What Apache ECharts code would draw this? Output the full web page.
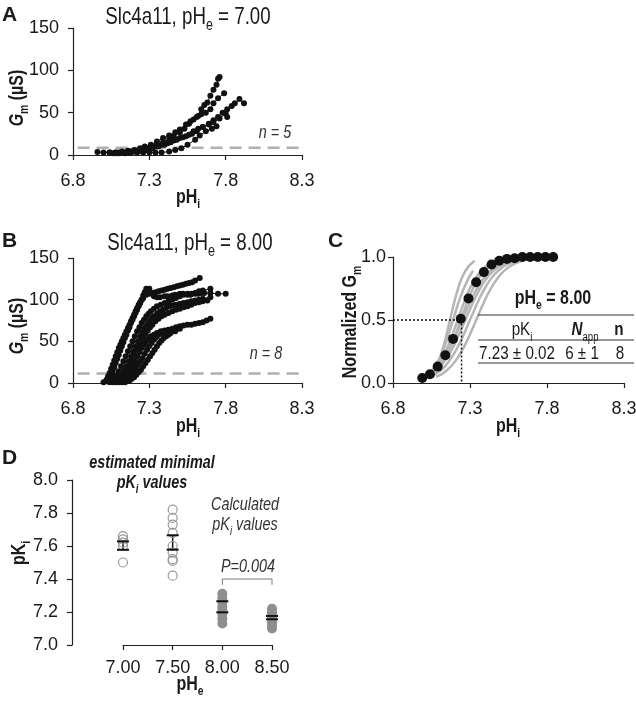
<!DOCTYPE html>
<html><head><meta charset="utf-8">
<script src="https://cdn.jsdelivr.net/npm/echarts@6/dist/echarts.min.js"></script>
<style>html,body{margin:0;padding:0;background:#fff}#c{width:636px;height:702px}</style>
</head><body><div id="c"></div>
<script>
// ---------- tick values ----------
const xTicksPHi = [6.8, 7.3, 7.8, 8.3];
const yTicksGm = [0, 50, 100, 150];
const yTicksNorm = [0, 0.5, 1.0];
const xTicksPHe = [7.0, 7.5, 8.0, 8.5];
const yTicksPK = [7.0, 7.2, 7.4, 7.6, 7.8, 8.0];

// ---------- panel A: Gm vs pHi, pHe 7.00 (n = 5) ----------
const thresholdA = 8.6;
const curveA1 = [[6.96,3.5],[7.00,3],[7.04,3],[7.08,3],[7.12,3],[7.16,4],[7.20,5],[7.24,6],[7.28,8],[7.32,10],[7.35,12],[7.39,15],[7.43,19],[7.46,22],[7.50,27],[7.53,31],[7.56,37],[7.59,42],[7.62,46],[7.64,54],[7.66,59],[7.68,62],[7.70,70],[7.72,77],[7.74,83],[7.75,90],[7.76,92]];
const curveA2 = [[7.04,3],[7.08,3],[7.12,4],[7.16,5],[7.20,6],[7.24,8],[7.27,10],[7.31,12],[7.35,16],[7.39,20],[7.43,23],[7.47,27],[7.50,30],[7.54,36],[7.57,40],[7.61,45],[7.64,48],[7.67,50],[7.70,54],[7.72,61],[7.75,67],[7.79,73]];
const curveA3 = [[7.06,2],[7.10,3],[7.14,3],[7.18,4],[7.22,5],[7.26,6],[7.30,8],[7.34,10],[7.38,12],[7.42,14],[7.46,17],[7.50,20],[7.54,22],[7.58,25],[7.61,28],[7.65,33],[7.69,37],[7.72,41],[7.75,45],[7.78,50],[7.81,54],[7.84,58],[7.86,61],[7.89,66],[7.92,61]];
const curveA4 = [[7.08,2],[7.12,3],[7.16,3],[7.20,4],[7.24,5],[7.28,6],[7.32,8],[7.36,10],[7.40,12],[7.44,15],[7.48,18],[7.52,21],[7.56,24],[7.59,28],[7.62,31],[7.65,33],[7.69,36],[7.72,39],[7.76,43],[7.80,49],[7.81,45]];
const curveA5 = [[7.10,2],[7.14,2],[7.18,3],[7.22,3],[7.26,3],[7.30,3],[7.34,3],[7.38,3],[7.43,4],[7.47,6],[7.51,8],[7.55,12],[7.60,18],[7.63,23],[7.67,28],[7.71,31],[7.74,34]];

// ---------- panel B: Gm vs pHi, pHe 8.00 (n = 8) ----------
const thresholdB = 11.5;
const curveB1 = [[7.00,1],[7.02,4],[7.03,8],[7.04,12],[7.05,17],[7.06,22],[7.07,27],[7.08,32],[7.09,37],[7.10,42],[7.11,46],[7.12,50],[7.13,54],[7.14,58],[7.15,62],[7.16,66],[7.17,70],[7.18,74],[7.19,78],[7.20,82],[7.21,86],[7.22,90],[7.23,94],[7.24,97],[7.25,100],[7.26,102],[7.28,106],[7.30,107],[7.32,108],[7.34,109],[7.36,110],[7.38,111],[7.40,112],[7.42,113],[7.44,114],[7.46,115],[7.48,116],[7.50,117],[7.52,118],[7.54,119],[7.56,120],[7.58,121],[7.60,123],[7.63,126]];
const curveB2 = [[7.02,2],[7.03,4],[7.04,6],[7.05,10],[7.06,14],[7.07,19],[7.08,24],[7.09,29],[7.10,34],[7.11,39],[7.12,44],[7.13,49],[7.14,54],[7.15,58],[7.16,63],[7.17,67],[7.18,72],[7.19,76],[7.20,80],[7.21,84],[7.22,88],[7.23,92],[7.24,96],[7.25,100],[7.26,105],[7.27,109],[7.28,113],[7.30,113],[7.31,108],[7.33,104],[7.35,103],[7.37,103],[7.40,104],[7.42,104],[7.45,105],[7.47,106],[7.50,107],[7.52,107],[7.55,106],[7.57,106],[7.60,107],[7.62,107],[7.64,108],[7.66,108],[7.70,108],[7.75,107],[7.80,107]];
const curveB3 = [[7.04,1],[7.055,3],[7.07,5],[7.085,9],[7.10,14],[7.115,20],[7.13,26],[7.145,32],[7.16,38],[7.175,44],[7.19,50],[7.205,56],[7.22,62],[7.235,67],[7.25,72],[7.265,76],[7.28,80],[7.295,83],[7.31,86],[7.33,89],[7.35,92],[7.375,94],[7.40,96],[7.425,98],[7.45,100],[7.475,102],[7.50,104],[7.525,106],[7.55,107],[7.575,107],[7.60,108],[7.625,110],[7.65,111],[7.70,113]];
const curveB4 = [[7.06,1],[7.075,2],[7.09,4],[7.105,7],[7.12,10],[7.135,15],[7.15,20],[7.165,26],[7.18,32],[7.195,38],[7.21,44],[7.225,50],[7.24,56],[7.255,61],[7.27,66],[7.285,70],[7.30,74],[7.315,77],[7.33,80],[7.35,83],[7.37,86],[7.39,88],[7.41,90],[7.43,92],[7.45,93],[7.475,94],[7.50,95],[7.525,96],[7.55,97],[7.575,98],[7.60,99],[7.625,100],[7.65,101],[7.70,103]];
const curveB5 = [[7.08,1],[7.095,2],[7.11,4],[7.125,8],[7.14,12],[7.155,17],[7.17,22],[7.185,28],[7.20,34],[7.215,40],[7.23,45],[7.245,50],[7.26,55],[7.275,59],[7.29,63],[7.305,67],[7.32,70],[7.34,74],[7.36,77],[7.38,80],[7.40,82],[7.425,84],[7.45,86],[7.475,88],[7.50,89],[7.525,91],[7.55,92],[7.575,94],[7.60,96],[7.625,97],[7.65,98],[7.68,99]];
const curveB6 = [[7.10,1],[7.115,2],[7.13,4],[7.145,8],[7.16,12],[7.175,17],[7.19,22],[7.205,27],[7.22,32],[7.235,37],[7.25,42],[7.265,46],[7.28,50],[7.295,53],[7.31,56],[7.33,58],[7.35,60],[7.375,62],[7.40,63],[7.425,64],[7.45,65],[7.475,67],[7.50,68],[7.525,69],[7.55,70],[7.575,70],[7.60,71],[7.625,72],[7.65,73],[7.675,75],[7.70,77]];
const curveB7 = [[7.12,1],[7.135,2],[7.15,4],[7.165,7],[7.18,10],[7.195,14],[7.21,18],[7.225,22],[7.24,26],[7.255,30],[7.27,35],[7.285,40],[7.30,44],[7.315,48],[7.33,52],[7.345,55],[7.36,58],[7.38,60],[7.40,62],[7.425,63],[7.45,64],[7.475,65],[7.50,65]];
const curveB8 = [[7.14,1],[7.155,2],[7.17,3],[7.185,5],[7.20,7],[7.215,10],[7.23,13],[7.245,16],[7.26,20],[7.275,24],[7.29,28],[7.305,32],[7.32,36],[7.335,40],[7.35,44],[7.365,48],[7.38,51],[7.395,54],[7.41,56],[7.425,58],[7.44,60],[7.47,62]];

// ---------- panel C: normalized Gm, fits (grey) and mean (black) ----------
const fitC1 = [[7.02,0.04],[7.07,0.11],[7.12,0.26],[7.17,0.50],[7.22,0.74],[7.27,0.89],[7.33,0.97]];
const fitC2 = [[7.03,0.07],[7.08,0.145],[7.13,0.275],[7.19,0.50],[7.24,0.69],[7.29,0.83],[7.32,0.89]];
const fitC3 = [[7.02,0.06],[7.07,0.112],[7.12,0.20],[7.17,0.333],[7.22,0.50],[7.27,0.667],[7.32,0.80],[7.37,0.888],[7.42,0.94],[7.45,0.96]];
const fitC4 = [[7.05,0.068],[7.10,0.127],[7.15,0.224],[7.20,0.365],[7.25,0.535],[7.30,0.696],[7.35,0.82],[7.40,0.90],[7.45,0.948],[7.50,0.973],[7.55,0.986]];
const fitC5 = [[7.03,0.074],[7.08,0.124],[7.13,0.20],[7.18,0.309],[7.23,0.443],[7.28,0.585],[7.33,0.715],[7.38,0.817],[7.43,0.888],[7.48,0.934],[7.53,0.962],[7.60,0.983]];
const fitC6 = [[7.05,0.074],[7.10,0.124],[7.15,0.20],[7.20,0.309],[7.25,0.443],[7.30,0.585],[7.35,0.715],[7.40,0.817],[7.45,0.888],[7.50,0.934],[7.55,0.962],[7.65,0.988]];
const fitC7 = [[7.06,0.06],[7.11,0.10],[7.16,0.167],[7.21,0.262],[7.26,0.387],[7.31,0.529],[7.36,0.667],[7.41,0.78],[7.46,0.863],[7.51,0.918],[7.56,0.952],[7.65,0.983],[7.75,0.994]];
const fitC8 = [[7.08,0.048],[7.13,0.082],[7.18,0.137],[7.23,0.22],[7.28,0.333],[7.33,0.471],[7.38,0.613],[7.43,0.738],[7.48,0.833],[7.53,0.90],[7.58,0.94],[7.65,0.973],[7.75,0.991],[7.84,0.997]];
const meanPHi = [6.99,7.04,7.09,7.14,7.19,7.24,7.29,7.34,7.39,7.44,7.49,7.54,7.59,7.64,7.69,7.74,7.79,7.84];
const meanGm  = [0.04,0.07,0.13,0.22,0.35,0.51,0.67,0.80,0.88,0.94,0.97,0.985,0.99,1.0,1.0,1.0,1.0,1.0];
const halfPK = 7.245, halfLevel = 0.5;

// ---------- panel D: pKi vs pHe ----------
const pk700 = [7.66,7.64,7.62,7.60,7.50];
const pk750 = [7.82,7.77,7.73,7.68,7.60,7.56,7.52,7.51,7.42];
const pk800 = [7.31,7.28,7.26,7.23,7.21,7.19,7.16,7.13];
const pk850 = [7.22,7.20,7.18,7.17,7.15,7.14,7.12,7.10];
const errPHe  = [7.0, 7.5, 8.0, 8.5];
const errLow  = [7.577, 7.578, 7.198, 7.156];
const errHigh = [7.628, 7.665, 7.265, 7.176];
const bracketX = [8.0, 8.5], bracketTop = 7.40, bracketFoot = 7.365;

// ---------- rendering ----------
const FONT = '"Liberation Sans",Arial,sans-serif';
const INK = '#1a1a1a';

function mk(parts, fs, o) {
  o = o || {};
  const rich = {}; let text = '';
  parts.forEach((p, i) => {
    const key = 'k' + i;
    const sub = !!p.sub;
    const size = sub ? Math.round(fs * 0.65) : fs;
    rich[key] = {
      fontSize: size, fontFamily: FONT,
      fontWeight: p.w || o.w || 'normal', fontStyle: p.s || o.s || 'normal',
      fill: o.fill || INK,
      lineHeight: sub ? size : Math.round(fs * 1.4),
      verticalAlign: sub ? 'bottom' : 'middle'
    };
    text += '{' + key + '|' + p.t + '}';
  });
  return { text, rich };
}
function T(x, y, parts, fs, o) {
  o = o || {};
  const r = mk(parts, fs, o);
  const sx = o.sx == null ? 0.8 : o.sx;
  return { type: 'text', x, y, rotation: o.rot || 0, scaleX: sx, scaleY: 1, silent: true, z: 100,
    style: { text: r.text, rich: r.rich, align: o.align || 'center', verticalAlign: 'middle' } };
}
function L(x1, y1, x2, y2) {
  return { type: 'line', silent: true, z: 100, shape: { x1, y1, x2, y2 }, style: { stroke: '#333', lineWidth: 1.2 } };
}

const axisLineS = { show: true, onZero: false, lineStyle: { color: '#222', width: 1.2 } };
const tickS = (vals) => ({ show: true, length: 5, customValues: vals, lineStyle: { color: '#222', width: 1.2 } });
const labelS = (vals, fmt, margin) => ({ customValues: vals, formatter: fmt, margin, fontSize: 18, color: INK, fontFamily: FONT });

function xAx(grid, min, max, vals, fmt, margin) {
  return { gridIndex: grid, type: 'value', min, max, axisLine: axisLineS, axisTick: tickS(vals),
    axisLabel: labelS(vals, fmt, margin), splitLine: { show: false } };
}
function yAx(grid, min, max, vals, fmt, margin, extra) {
  return Object.assign({ gridIndex: grid, type: 'value', min, max, axisLine: axisLineS, axisTick: tickS(vals),
    axisLabel: labelS(vals, fmt, margin), splitLine: { show: false } }, extra || {});
}

const series = [];
function dataLine(xi, data, size) {
  series.push({ type: 'line', xAxisIndex: xi, yAxisIndex: xi, data, symbol: 'circle', symbolSize: size,
    itemStyle: { color: '#111', opacity: 1 }, lineStyle: { color: '#111', width: 1 }, silent: true, z: 3 });
}
function threshold(xi, level) {
  series.push({ type: 'line', xAxisIndex: xi, yAxisIndex: xi, data: [[6.83, level], [8.29, level]], symbol: 'none',
    lineStyle: { color: '#b0b0b0', width: 2.5, type: [12, 7] }, silent: true, z: 2 });
}
threshold(0, thresholdA);
[curveA1, curveA2, curveA3, curveA4, curveA5].forEach(d => dataLine(0, d, 6));
threshold(1, thresholdB);
[curveB1, curveB2, curveB3, curveB4, curveB5, curveB6, curveB7, curveB8].forEach(d => dataLine(1, d, 6));

[fitC1, fitC2, fitC3, fitC4, fitC5, fitC6, fitC7, fitC8].forEach(d => series.push({
  type: 'line', xAxisIndex: 2, yAxisIndex: 2, data: d, smooth: true, symbol: 'none',
  lineStyle: { color: '#b5b5b5', width: 2.5 }, silent: true, z: 2 }));
series.push({ type: 'line', xAxisIndex: 2, yAxisIndex: 2, data: [[6.8, halfLevel], [halfPK, halfLevel], [halfPK, 0]],
  symbol: 'none', lineStyle: { color: '#111', width: 1.5, type: [2, 2] }, silent: true, z: 3 });
series.push({ type: 'scatter', xAxisIndex: 2, yAxisIndex: 2, data: meanPHi.map((x, i) => [x, meanGm[i]]),
  symbol: 'circle', symbolSize: 10, itemStyle: { color: '#111', opacity: 1 }, silent: true, z: 4 });

// panel D
series.push({ type: 'custom', xAxisIndex: 3, yAxisIndex: 3, data: errPHe.map((x, i) => [x, errLow[i], errHigh[i]]),
  encode: { x: 0, y: [1, 2] }, silent: true, z: 2,
  renderItem: (params, api) => {
    const a = api.coord([api.value(0), api.value(1)]), b = api.coord([api.value(0), api.value(2)]);
    return { type: 'line', shape: { x1: a[0], y1: a[1], x2: b[0], y2: b[1] }, style: { stroke: '#111', lineWidth: 1.5 } };
  } });
[[7.0, pk700], [7.5, pk750]].forEach(([x, arr]) => series.push({ type: 'scatter', xAxisIndex: 3, yAxisIndex: 3,
  data: arr.map(v => [x, v]), symbol: 'circle', symbolSize: 9,
  itemStyle: { color: 'rgba(0,0,0,0)', borderColor: '#999', borderWidth: 1.2, opacity: 1 }, silent: true, z: 3 }));
[[8.0, pk800], [8.5, pk850]].forEach(([x, arr]) => series.push({ type: 'scatter', xAxisIndex: 3, yAxisIndex: 3,
  data: arr.map(v => [x, v]), symbol: 'circle', symbolSize: 10,
  itemStyle: { color: '#8e8e8e', opacity: 1 }, silent: true, z: 3 }));
series.push({ type: 'custom', xAxisIndex: 3, yAxisIndex: 3, data: errPHe.map((x, i) => [x, errLow[i], errHigh[i]]),
  encode: { x: 0, y: [1, 2] }, silent: true, z: 4,
  renderItem: (params, api) => {
    const a = api.coord([api.value(0), api.value(1)]), b = api.coord([api.value(0), api.value(2)]);
    const hw = 6;
    return { type: 'group', children: [
      { type: 'line', shape: { x1: a[0] - hw, y1: a[1], x2: a[0] + hw, y2: a[1] }, style: { stroke: '#111', lineWidth: 2 } },
      { type: 'line', shape: { x1: b[0] - hw, y1: b[1], x2: b[0] + hw, y2: b[1] }, style: { stroke: '#111', lineWidth: 2 } }
    ] };
  } });
series.push({ type: 'line', xAxisIndex: 3, yAxisIndex: 3,
  data: [[bracketX[0], bracketFoot], [bracketX[0], bracketTop], [bracketX[1], bracketTop], [bracketX[1], bracketFoot]],
  symbol: 'none', lineStyle: { color: '#777', width: 1 }, silent: true, z: 3 });

const f1 = v => v.toFixed(1), f0 = v => String(v), f2 = v => v.toFixed(2);
const option = {
  animation: false,
  backgroundColor: '#fff',
  grid: [
    { left: 73, top: 28, width: 229, height: 127, outerBoundsMode: 'none' },
    { left: 73, top: 258, width: 229, height: 125, outerBoundsMode: 'none' },
    { left: 393, top: 257, width: 231, height: 126, outerBoundsMode: 'none' },
    { left: 123, top: 480, width: 149, height: 165, outerBoundsMode: 'none' }
  ],
  xAxis: [
    xAx(0, 6.8, 8.3, xTicksPHi, f1, 17),
    xAx(1, 6.8, 8.3, xTicksPHi, f1, 17),
    xAx(2, 6.8, 8.3, xTicksPHi, f1, 17),
    xAx(3, 7.0, 8.5, xTicksPHe, f2, 14)
  ],
  yAxis: [
    yAx(0, 0, 150, yTicksGm, f0, 14),
    yAx(1, 0, 150, yTicksGm, f0, 14),
    yAx(2, 0, 1, yTicksNorm, f1, 7),
    yAx(3, 7.0, 8.0, yTicksPK, f1, 14, { offset: 51 })
  ],
  series,
  graphic: [
    T(2, 15, [{ t: 'A' }], 21, { w: 'bold', align: 'left', sx: 1 }),
    T(2, 241, [{ t: 'B' }], 21, { w: 'bold', align: 'left', sx: 1 }),
    T(328, 241, [{ t: 'C' }], 21, { w: 'bold', align: 'left', sx: 1 }),
    T(2, 458, [{ t: 'D' }], 21, { w: 'bold', align: 'left', sx: 1 }),
    T(188, 17, [{ t: 'Slc4a11, pH' }, { t: 'e', sub: true }, { t: ' = 7.00' }], 24, { sx: 0.78 }),
    T(190, 243, [{ t: 'Slc4a11, pH' }, { t: 'e', sub: true }, { t: ' = 8.00' }], 24, { sx: 0.78 }),
    T(17, 98, [{ t: 'G', s: 'italic' }, { t: 'm', sub: true }, { t: ' (µS)' }], 20, { w: 'bold', rot: Math.PI / 2 }),
    T(17, 326, [{ t: 'G', s: 'italic' }, { t: 'm', sub: true }, { t: ' (µS)' }], 20, { w: 'bold', rot: Math.PI / 2 }),
    T(350, 322, [{ t: 'Normalized G' }, { t: 'm', sub: true }], 20, { w: 'bold', rot: Math.PI / 2 }),
    T(19, 553, [{ t: 'pK' }, { t: 'i', sub: true }], 20, { w: 'bold', rot: Math.PI / 2 }),
    T(188, 197, [{ t: 'pH' }, { t: 'i', sub: true }], 20, { w: 'bold' }),
    T(188, 426, [{ t: 'pH' }, { t: 'i', sub: true }], 20, { w: 'bold' }),
    T(508, 426, [{ t: 'pH' }, { t: 'i', sub: true }], 20, { w: 'bold' }),
    T(190, 684, [{ t: 'pH' }, { t: 'e', sub: true }], 20, { w: 'bold' }),
    T(275, 133, [{ t: 'n = 5' }], 18, { s: 'italic', fill: '#333' }),
    T(266, 354, [{ t: 'n = 8' }], 18, { s: 'italic', fill: '#333' }),
    T(553, 298, [{ t: 'pH' }, { t: 'e', sub: true }, { t: ' = 8.00' }], 20, { w: 'bold' }),
    L(478, 315, 634, 315), L(478, 340, 634, 340), L(478, 363, 634, 363),
    T(522, 330, [{ t: 'pK' }, { t: 'i', sub: true }], 19),
    T(585, 330, [{ t: 'N', w: 'bold', s: 'italic' }, { t: 'app', sub: true }], 19),
    T(619, 330, [{ t: 'n', w: 'bold' }], 19),
    T(517, 354, [{ t: '7.23 ± 0.02' }], 19),
    T(582, 354, [{ t: '6 ± 1' }], 19),
    T(620, 354, [{ t: '8' }], 19),
    T(152, 463, [{ t: 'estimated minimal' }], 18, { w: 'bold', s: 'italic' }),
    T(152, 483, [{ t: 'pK' }, { t: 'i', sub: true }, { t: ' values' }], 18, { w: 'bold', s: 'italic' }),
    T(245, 505, [{ t: 'Calculated' }], 18, { s: 'italic', fill: '#333' }),
    T(245, 525, [{ t: 'pK' }, { t: 'i', sub: true }, { t: ' values' }], 18, { s: 'italic', fill: '#333' }),
    T(248, 567, [{ t: 'P=0.004' }], 18, { s: 'italic', fill: '#333' })
  ]
};
const chart = echarts.init(document.getElementById('c'), null, { renderer: 'canvas' });
chart.setOption(option);
</script>
</body></html>
